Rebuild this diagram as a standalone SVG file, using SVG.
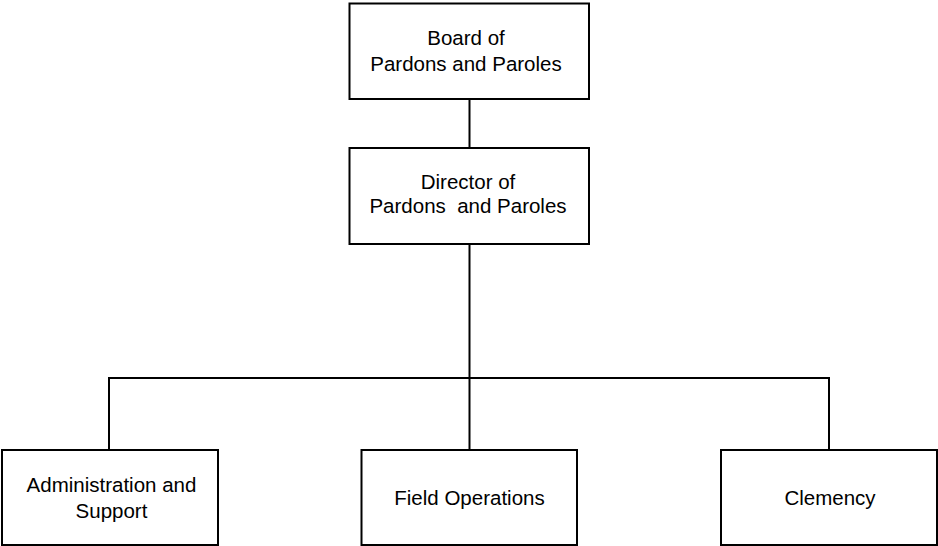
<svg xmlns="http://www.w3.org/2000/svg" width="938" height="546" viewBox="0 0 938 546">
<style>
.box{fill:#fff;stroke:#000;stroke-width:2}
.ln{fill:none;stroke:#000;stroke-width:2}
text{font-family:"Liberation Sans",Arial,sans-serif;font-size:20.5px;fill:#000;text-anchor:middle}
</style>
<rect width="938" height="546" fill="#fff"/>
<g id="connectors">
<line class="ln" x1="469.5" y1="99" x2="469.5" y2="148"/>
<line class="ln" x1="469.5" y1="244" x2="469.5" y2="450"/>
<polyline class="ln" points="109,450 109,378 829,378 829,450"/>
</g>
<g id="board">
<rect class="box" x="349.5" y="3.5" width="239.5" height="95.5"/>
<text x="466" y="45">Board of</text>
<text x="466" y="71">Pardons and Paroles</text>
</g>
<g id="director">
<rect class="box" x="349.5" y="148" width="239.5" height="96"/>
<text x="468" y="189">Director of</text>
<text x="468" y="213" xml:space="preserve">Pardons  and Paroles</text>
</g>
<g id="admin">
<rect class="box" x="2" y="450" width="216" height="95"/>
<text x="111.5" y="492">Administration and</text>
<text x="111.5" y="518">Support</text>
</g>
<g id="field">
<rect class="box" x="361.5" y="450" width="215.5" height="95"/>
<text x="469.5" y="505">Field Operations</text>
</g>
<g id="clemency">
<rect class="box" x="721" y="450" width="216" height="95"/>
<text x="830" y="505">Clemency</text>
</g>
</svg>
